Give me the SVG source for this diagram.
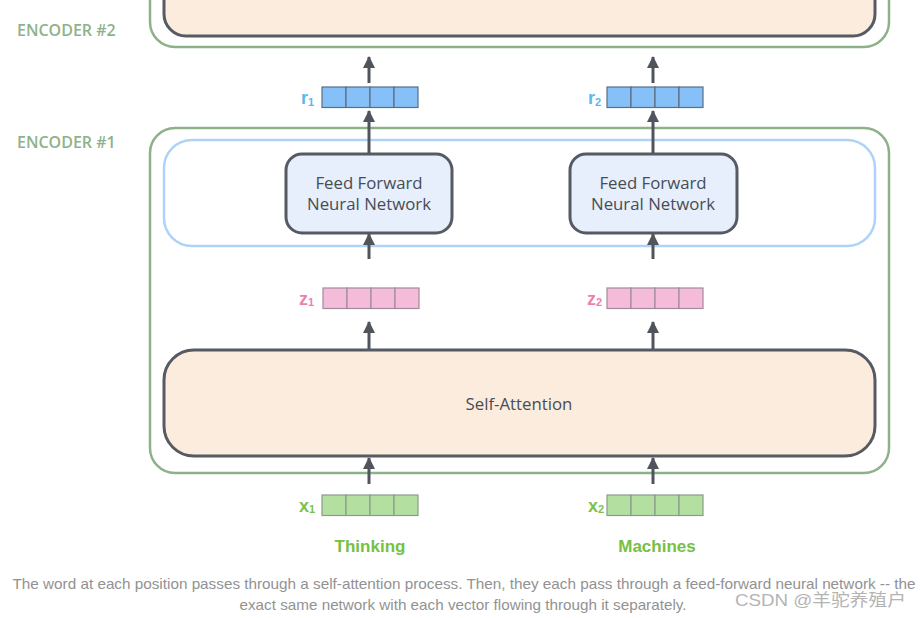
<svg xmlns="http://www.w3.org/2000/svg" width="922" height="618" viewBox="0 0 922 618">
<style>
.enc{fill:none;stroke:#8db28a;stroke-width:2.5}
.enclbl{font-family:"Open Sans","Noto Sans",sans-serif;font-weight:600;font-size:16px;fill:#8db28a}
.peach{fill:#fcecdd;stroke:#555a63;stroke-width:3}
.ffn{fill:#e6effb;stroke:#555a63;stroke-width:3}
.sub{fill:none;stroke:#aed3f7;stroke-width:2.5}
.t{font-family:"Open Sans","Noto Sans",sans-serif;font-size:16.8px;fill:#484c54;text-anchor:middle}
.vr{fill:#85c0f8;stroke:#5d6d82;stroke-width:1.2}
.vz{fill:#f4bcd9;stroke:#a08c9a;stroke-width:1.2}
.vx{fill:#b3e0a0;stroke:#8c9a8a;stroke-width:1.2}
.lbl{font-family:"Liberation Sans",Arial,sans-serif;font-weight:bold;font-size:18px}
.sb{font-size:11px}
.word{font-family:"Liberation Sans",Arial,sans-serif;font-weight:bold;font-size:17px;fill:#76c043;text-anchor:middle}
.arr{stroke:#50545c;stroke-width:3;fill:none}
.cap{font-family:"Liberation Sans",Arial,sans-serif;font-size:14.5px;fill:#929292;text-anchor:middle}
</style>
<defs>
<marker id="ah" viewBox="0 0 12 12" refX="11" refY="6" markerWidth="12" markerHeight="12" markerUnits="userSpaceOnUse" orient="auto">
<path d="M0,0 L12,6 L0,12 z" fill="#50545c"/>
</marker>
<g id="cells">
<rect x="0" y="0" width="24" height="20.5"/>
<rect x="24" y="0" width="24" height="20.5"/>
<rect x="48" y="0" width="24" height="20.5"/>
<rect x="72" y="0" width="24" height="20.5"/>
</g>
</defs>

<g id="encoder2">
<rect class="enc" x="150" y="-40" width="739" height="87" rx="25"/>
<rect class="peach" x="164" y="-40" width="711" height="76" rx="22"/>
<text class="enclbl" x="17" y="36">ENCODER #2</text>
</g>

<g id="encoder1">
<rect class="enc" x="150" y="128" width="739" height="345" rx="25"/>
<text class="enclbl" x="17" y="148">ENCODER #1</text>
</g>

<g id="ffn-layer">
<rect class="sub" x="164" y="140" width="711" height="106" rx="28"/>
</g>

<g id="ffn1">
<rect class="ffn" x="286" y="154" width="166" height="79" rx="16"/>
<text class="t" x="369" y="189">Feed Forward</text>
<text class="t" x="369" y="210">Neural Network</text>
</g>
<g id="ffn2">
<rect class="ffn" x="570" y="154" width="167" height="79" rx="16"/>
<text class="t" x="653" y="189">Feed Forward</text>
<text class="t" x="653" y="210">Neural Network</text>
</g>

<g id="self-attention">
<rect class="peach" x="164" y="350" width="711" height="106" rx="30"/>
<text class="t" x="519" y="410">Self-Attention</text>
</g>

<g id="r1">
<use href="#cells" class="vr" x="322" y="87"/>
<text class="lbl" x="301" y="104" fill="#5cb8ea">r<tspan class="sb" dy="2">1</tspan></text>
</g>
<g id="r2">
<use href="#cells" class="vr" x="607" y="87"/>
<text class="lbl" x="588" y="104" fill="#5cb8ea">r<tspan class="sb" dy="2">2</tspan></text>
</g>
<g id="z1">
<use href="#cells" class="vz" x="323" y="288"/>
<text class="lbl" x="299" y="305" fill="#ee7fb6">z<tspan class="sb" dy="1">1</tspan></text>
</g>
<g id="z2">
<use href="#cells" class="vz" x="607" y="288"/>
<text class="lbl" x="587" y="305" fill="#ee7fb6">z<tspan class="sb" dy="1">2</tspan></text>
</g>
<g id="x1">
<use href="#cells" class="vx" x="322" y="495"/>
<text class="lbl" x="299" y="512" fill="#7cc24f">x<tspan class="sb" dy="1">1</tspan></text>
</g>
<g id="x2">
<use href="#cells" class="vx" x="607" y="495"/>
<text class="lbl" x="588" y="512" fill="#7cc24f">x<tspan class="sb" dy="1">2</tspan></text>
</g>

<g id="words">
<text class="word" x="370" y="552">Thinking</text>
<text class="word" x="657" y="552">Machines</text>
</g>

<g id="connectors">
<line class="arr" x1="369" y1="83" x2="369" y2="57" marker-end="url(#ah)"/>
<line class="arr" x1="653" y1="83" x2="653" y2="57" marker-end="url(#ah)"/>
<line class="arr" x1="369" y1="153" x2="369" y2="111" marker-end="url(#ah)"/>
<line class="arr" x1="653" y1="153" x2="653" y2="111" marker-end="url(#ah)"/>
<line class="arr" x1="369" y1="259" x2="369" y2="234" marker-end="url(#ah)"/>
<line class="arr" x1="653" y1="259" x2="653" y2="234" marker-end="url(#ah)"/>
<line class="arr" x1="369" y1="349" x2="369" y2="322" marker-end="url(#ah)"/>
<line class="arr" x1="653" y1="349" x2="653" y2="322" marker-end="url(#ah)"/>
<line class="arr" x1="369" y1="484" x2="369" y2="458" marker-end="url(#ah)"/>
<line class="arr" x1="653" y1="484" x2="653" y2="458" marker-end="url(#ah)"/>
</g>

<g id="caption">
<text class="cap" x="464" y="589" textLength="903" lengthAdjust="spacingAndGlyphs">The word at each position passes through a self-attention process. Then, they each pass through a feed-forward neural network -- the</text>
<text class="cap" x="463" y="610" textLength="447" lengthAdjust="spacingAndGlyphs">exact same network with each vector flowing through it separately.</text>
<text x="735" y="606" style="font-family:'Liberation Sans','Noto Sans CJK SC',sans-serif;font-size:17px;fill:#b4b4b4" textLength="171" lengthAdjust="spacingAndGlyphs">CSDN @羊驼养殖户</text>
</g>
</svg>
